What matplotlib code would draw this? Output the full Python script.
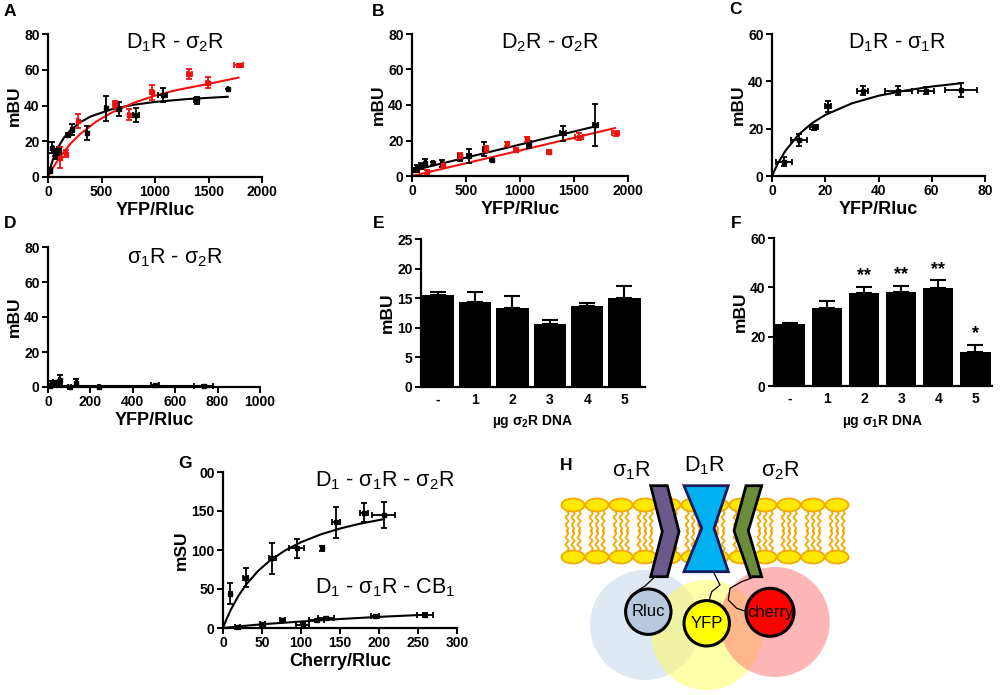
import numpy as np
import matplotlib
matplotlib.use("Agg")
import matplotlib.pyplot as plt
from matplotlib.patches import Circle, Ellipse, Polygon

plt.rcParams['font.family'] = ['Liberation Sans', 'DejaVu Sans']
plt.rcParams['mathtext.default'] = 'regular'

W, H = 1000, 695

# ---- panel A: D1R - s2R saturation curves ----
a_blk_x = [18, 40, 70, 80, 107, 184, 224, 362, 540, 663, 822, 1072, 1390, 1681]
a_blk_y = [3.6, 16.4, 13.6, 11.8, 14.9, 23.6, 26.4, 24.5, 38.5, 38.2, 34.5, 45.8, 43.0, 49.0]
a_blk_ye = [1.5, 3, 2, 1.5, 2, 1, 3, 4, 7, 4, 4, 4, 2, 0]
a_blk_xe = [3, 5, 5, 5, 5, 8, 8, 5, 5, 15, 30, 40, 25, 0]
a_red_x = [110, 172, 279, 625, 755, 969, 1322, 1491, 1781]
a_red_y = [10.9, 13.1, 31.3, 40.6, 34.9, 47.3, 57.6, 52.7, 62.4]
a_red_ye = [6, 2, 4, 2, 3, 4, 3, 3, 1]
a_red_xe = [5, 5, 5, 20, 5, 15, 20, 10, 40]
a_blk_fit_x = [0, 25, 50, 100, 150, 200, 300, 400, 600, 800, 1000, 1300, 1680]
a_blk_fit_y = [0, 5.8, 10.4, 17.2, 22.1, 25.6, 30.6, 33.9, 38.0, 40.4, 42.0, 43.6, 44.9]
a_red_fit_x = [0, 50, 100, 200, 300, 450, 600, 800, 1000, 1200, 1500, 1780]
a_red_fit_y = [0, 5.5, 10.2, 18.0, 24.0, 31.0, 36.2, 41.5, 45.5, 48.6, 52.1, 55.6]

# ---- panel B: D2R - s2R (linear) ----
b_blk_x = [15, 46, 86, 123, 194, 281, 441, 528, 664, 744, 1083, 1398, 1698]
b_blk_y = [3.4, 4.3, 5.6, 7.5, 7.1, 6.8, 10.5, 11.3, 15.2, 9.0, 18.0, 24.0, 28.7]
b_blk_ye = [1, 2, 1.5, 2, 1, 2, 2, 4, 4, 0.5, 2, 4, 12]
b_blk_xe = [5, 5, 5, 5, 10, 10, 15, 15, 5, 5, 15, 30, 25]
b_red_x = [142, 287, 448, 688, 880, 960, 1068, 1269, 1546, 1886]
b_red_y = [2.4, 6.2, 11.3, 15.2, 18.0, 14.6, 20.7, 13.7, 22.2, 24.0]
b_red_ye = [1, 1, 1.5, 1.5, 1, 1, 1.5, 1, 2, 1.5]
b_red_xe = [10, 15, 15, 10, 10, 20, 15, 20, 40, 35]
b_blk_fit_x, b_blk_fit_y = [0, 1700], [3, 28]
b_red_fit_x, b_red_fit_y = [0, 1880], [0, 27]

# ---- panel C: D1R - s1R ----
c_x = [4.4, 10, 15.9, 21, 34, 47.5, 58, 71]
c_y = [6.1, 15.2, 20.6, 29.4, 36.1, 36.1, 36.1, 36.4]
c_ye = [2, 2.5, 1, 2.5, 2, 2, 1.5, 3]
c_xe = [3, 3, 1.5, 1, 2, 5, 3, 6]
c_fit_x = [0, 2, 5, 10, 15, 20, 30, 40, 50, 60, 71]
c_fit_y = [0, 4.9, 10.6, 17.5, 22.3, 25.8, 30.7, 33.9, 36.1, 37.8, 39.2]

# ---- panel D: s1R - s2R ----
d_x = [8, 20, 35, 55, 102, 134, 240, 505, 735]
d_y = [0.5, 2.3, 2.7, 4.2, 0, 2.3, 0, 1, 0.5]
d_ye = [0.5, 1, 0.5, 2.5, 0.5, 2, 0, 0.3, 0.5]
d_xe = [3, 5, 10, 3, 8, 3, 5, 20, 45]
d_fit_x, d_fit_y = [0, 775], [0.4, 0.4]

# ---- panels E, F: bars ----
bar_labels = ['-', '1', '2', '3', '4', '5']
e_val = [15.6, 14.3, 13.3, 10.7, 13.6, 15.1]
e_err = [0.4, 1.7, 2.0, 0.6, 0.6, 1.9]
f_val = [25.1, 31.8, 37.9, 38.3, 39.6, 13.8]
f_err = [0.6, 2.6, 2.4, 2.4, 3.3, 2.8]
f_sig = ['', '', '**', '**', '**', '*']

# ---- panel G: BRET with sequential resonance ----
g1_x = [9.4, 29, 63.4, 94.3, 127, 145, 181, 206]
g1_y = [44.2, 64.4, 89.3, 102, 102, 135.6, 148, 145]
g1_ye = [13, 12, 20, 12, 3, 20, 12, 17]
g1_xe = [2, 3, 5, 10, 2, 5, 5, 15]
g1_fit_x = [0, 5, 10, 20, 30, 45, 60, 80, 100, 125, 150, 175, 206]
g1_fit_y = [0, 12.5, 23.4, 41.6, 56.1, 73.2, 86.3, 99.7, 110, 119.9, 127.5, 133.6, 139.5]
g2_x = [19, 51, 76, 102, 120, 132, 195, 259]
g2_y = [1.3, 5.6, 9.9, 3.5, 10, 12.9, 15, 16.7]
g2_ye = [0.5, 0.5, 1.5, 3, 2, 1, 1, 2]
g2_xe = [3, 3, 3, 8, 10, 10, 5, 10]
g2_fit_x = [0, 25, 50, 100, 150, 200, 260]
g2_fit_y = [0, 2.5, 4.8, 8.3, 11.5, 14.3, 17]
g_yticklabels = ['0', '50', '100', '150', '00']

fig = plt.figure(figsize=(W / 100, H / 100), dpi=100)


def px_axes(left, top, right, bottom):
    return fig.add_axes([left / W, 1 - bottom / H, (right - left) / W, (bottom - top) / H])


def fig_text(x, y, s, **kw):
    fig.text(x / W, 1 - y / H, s, **kw)


def style(ax):
    for side in ('top', 'right'):
        ax.spines[side].set_visible(False)
    for side in ('left', 'bottom'):
        ax.spines[side].set_linewidth(1.6)
    ax.tick_params(direction='out', length=4, width=1.4, labelsize=10, pad=2)
    for lab in ax.get_xticklabels() + ax.get_yticklabels():
        lab.set_fontweight('bold')


def points(ax, x, y, ye, xe, color):
    ax.errorbar(x, y, yerr=ye, xerr=xe, fmt='s', ms=3.2, color=color,
                ecolor=color, elinewidth=1.3, capsize=2.4, capthick=1.3,
                clip_on=False, zorder=3)


def xy_labels(ax, xl, yl, xpad=2, ypad=2):
    ax.set_xlabel(xl, fontsize=13, fontweight='bold', labelpad=xpad)
    ax.set_ylabel(yl, fontsize=12.5, fontweight='bold', labelpad=ypad)


RED = '#f01010'

# A
ax = px_axes(48, 34, 262, 177)
points(ax, a_blk_x, a_blk_y, a_blk_ye, a_blk_xe, 'black')
points(ax, a_red_x, a_red_y, a_red_ye, a_red_xe, RED)
ax.plot(a_blk_fit_x, a_blk_fit_y, color='black', lw=1.5)
ax.plot(a_red_fit_x, a_red_fit_y, color=RED, lw=1.5)
ax.set_xlim(0, 2000); ax.set_ylim(0, 80)
ax.set_xticks([0, 500, 1000, 1500, 2000]); ax.set_yticks([0, 20, 40, 60, 80])
style(ax); xy_labels(ax, 'YFP/Rluc', 'mBU')

# B
ax = px_axes(412, 34, 628, 176)
points(ax, b_blk_x, b_blk_y, b_blk_ye, b_blk_xe, 'black')
points(ax, b_red_x, b_red_y, b_red_ye, b_red_xe, RED)
ax.plot(b_blk_fit_x, b_blk_fit_y, color='black', lw=1.5)
ax.plot(b_red_fit_x, b_red_fit_y, color=RED, lw=1.5)
ax.set_xlim(0, 2000); ax.set_ylim(0, 80)
ax.set_xticks([0, 500, 1000, 1500, 2000]); ax.set_yticks([0, 20, 40, 60, 80])
style(ax); xy_labels(ax, 'YFP/Rluc', 'mBU')

# C
ax = px_axes(772, 34, 985, 176)
points(ax, c_x, c_y, c_ye, c_xe, 'black')
ax.plot(c_fit_x, c_fit_y, color='black', lw=1.5)
ax.set_xlim(0, 80); ax.set_ylim(0, 60)
ax.set_xticks([0, 20, 40, 60, 80]); ax.set_yticks([0, 20, 40, 60])
style(ax); xy_labels(ax, 'YFP/Rluc', 'mBU')

# D
ax = px_axes(48, 247, 260, 387)
points(ax, d_x, d_y, d_ye, d_xe, 'black')
ax.plot(d_fit_x, d_fit_y, color='black', lw=1.5)
ax.set_xlim(0, 1000); ax.set_ylim(0, 80)
ax.set_xticks([0, 200, 400, 600, 800, 1000]); ax.set_yticks([0, 20, 40, 60, 80])
style(ax); xy_labels(ax, 'YFP/Rluc', 'mBU')

# E
ax = px_axes(421, 239, 645, 387)
pos = np.arange(len(bar_labels))
ax.bar(pos, e_val, width=0.86, color='black', zorder=2)
ax.errorbar(pos, e_val, yerr=[np.zeros(len(e_err)), e_err], fmt='none',
            ecolor='black', elinewidth=1.5, capsize=6, capthick=1.5)
ax.set_xlim(-0.45, 5.55); ax.set_ylim(0, 25)
ax.set_xticks(pos); ax.set_xticklabels(bar_labels)
ax.set_yticks([0, 5, 10, 15, 20, 25])
style(ax)
ax.tick_params(axis='x', length=0, pad=4)
ax.set_xlabel('µg σ$_2$R DNA', fontsize=10, fontweight='bold', labelpad=5)
ax.set_ylabel('mBU', fontsize=12.5, fontweight='bold', labelpad=2)

# F
ax = px_axes(774, 238, 992, 386)
ax.bar(pos, f_val, width=0.82, color='black', zorder=2)
ax.errorbar(pos, f_val, yerr=[np.zeros(len(f_err)), f_err], fmt='none',
            ecolor='black', elinewidth=1.5, capsize=6, capthick=1.5)
for p, v, e, s in zip(pos, f_val, f_err, f_sig):
    ax.text(p, v + e + 1.0, s, ha='center', va='bottom', fontsize=13,
            fontweight='bold')
ax.set_xlim(-0.43, 5.45); ax.set_ylim(0, 60)
ax.set_xticks(pos); ax.set_xticklabels(bar_labels)
ax.set_yticks([0, 20, 40, 60])
style(ax)
ax.tick_params(axis='x', length=0, pad=4)
ax.set_xlabel('µg σ$_1$R DNA', fontsize=10, fontweight='bold', labelpad=5)
ax.set_ylabel('mBU', fontsize=12.5, fontweight='bold', labelpad=2)

# G
ax = px_axes(223, 472, 457, 628)
points(ax, g1_x, g1_y, g1_ye, g1_xe, 'black')
points(ax, g2_x, g2_y, g2_ye, g2_xe, 'black')
ax.plot(g1_fit_x, g1_fit_y, color='black', lw=1.5)
ax.plot(g2_fit_x, g2_fit_y, color='black', lw=1.5)
ax.set_xlim(0, 300); ax.set_ylim(0, 200)
ax.set_xticks([0, 50, 100, 150, 200, 250, 300])
ax.set_yticks([0, 50, 100, 150, 200]); ax.set_yticklabels(g_yticklabels)
style(ax); xy_labels(ax, 'Cherry/Rluc', 'mSU')

# panel titles
tkw = dict(ha='center', va='center', fontsize=15.5)
fig_text(175, 43, 'D$_1$R - σ$_2$R', **tkw)
fig_text(550, 43, 'D$_2$R - σ$_2$R', **tkw)
fig_text(897, 43, 'D$_1$R - σ$_1$R', **tkw)
fig_text(175, 258, 'σ$_1$R - σ$_2$R', **tkw)
fig_text(385, 481, 'D$_1$ - σ$_1$R - σ$_2$R', **tkw)
fig_text(385, 588, 'D$_1$ - σ$_1$R - CB$_1$', **tkw)

# panel letters
lkw = dict(ha='center', va='center', fontsize=12.5, fontweight='bold')
for lx, ly, letter in [(10, 11, 'A'), (378, 11, 'B'), (735, 10, 'C'),
                       (10, 224, 'D'), (379, 224, 'E'), (736, 224, 'F'),
                       (185, 464, 'G'), (566, 466, 'H')]:
    fig_text(lx, ly, letter, **lkw)

# H: schematic, drawn in figure pixel coordinates
hx = px_axes(560, 440, 900, 695)
hx.set_xlim(560, 900); hx.set_ylim(695, 440); hx.axis('off')

hx.add_patch(Circle((645, 625), 55, fc='#b9cce6', ec='none', alpha=0.45))
hx.add_patch(Circle((706.7, 635), 55, fc='#ffff55', ec='none', alpha=0.5))
hx.add_patch(Circle((774.7, 622), 55, fc='#ff6f6f', ec='none', alpha=0.5))

head_fc, head_ec = '#ffe800', '#f2a900'
wiggle = [0, 1.8, -1.6, 1.7, -1.4, 1.2, 0]
for i in range(12):
    cx = 573 + 24 * i
    for dx in (-6, 0, 6):
        xs = [cx + dx + w for w in wiggle]
        hx.plot(xs, np.linspace(510, 532, len(wiggle)), color=head_ec, lw=1.3)
        hx.plot(xs[::-1], np.linspace(530, 552, len(wiggle)), color=head_ec, lw=1.3)
    hx.add_patch(Ellipse((cx, 505), 23, 13, fc=head_fc, ec=head_ec, lw=1.3, zorder=2.5))
    hx.add_patch(Ellipse((cx, 557), 23, 13, fc=head_fc, ec=head_ec, lw=1.3, zorder=2.5))

hx.add_patch(Polygon([(650.7, 485.7), (667.3, 485.7), (679, 531.7), (667.3, 576.7),
                      (650.7, 576.7), (662.3, 531.7)], closed=True,
                     fc='#6a5a8c', ec='black', lw=2, zorder=3))
hx.add_patch(Polygon([(684, 485.7), (728.3, 485.7), (714, 528.3), (728.3, 571.7),
                      (684, 571.7), (701.7, 528.3)], closed=True,
                     fc='#00b0f0', ec='#1a1a5e', lw=2, zorder=3))
hx.add_patch(Polygon([(746, 485.7), (761.7, 485.7), (748.3, 530.7), (761.7, 576.7),
                      (750, 576.7), (734, 530.7)], closed=True,
                     fc='#6b8c3a', ec='black', lw=2, zorder=3))

hx.plot([655, 645, 637.3, 634], [576.7, 586, 590.7, 598.3], color='black', lw=0.9)
hx.plot([713.3, 720, 711.7, 708.3], [571.7, 585, 591.7, 603.3], color='black', lw=0.9)
hx.plot([755, 741.7, 730, 728.3, 736.7, 746.7],
        [576.7, 581.7, 588.3, 600, 608.3, 611.7], color='black', lw=0.9)

for (cx, cy, r, fc, name) in [(648.3, 611.7, 22.7, '#b8c9de', 'Rluc'),
                              (706.7, 623.3, 22.7, '#ffff00', 'YFP'),
                              (770, 612.3, 24, '#ff0000', 'cherry')]:
    hx.add_patch(Circle((cx, cy), r, fc=fc, ec='black', lw=2.2, zorder=4))
    hx.text(cx, cy, name, ha='center', va='center', fontsize=12, zorder=5)

hx.text(631.7, 471, 'σ$_1$R', ha='center', va='center', fontsize=15.5)
hx.text(705, 466, 'D$_1$R', ha='center', va='center', fontsize=15.5)
hx.text(780, 471, 'σ$_2$R', ha='center', va='center', fontsize=15.5)

fig.savefig('out.png', dpi=100)
